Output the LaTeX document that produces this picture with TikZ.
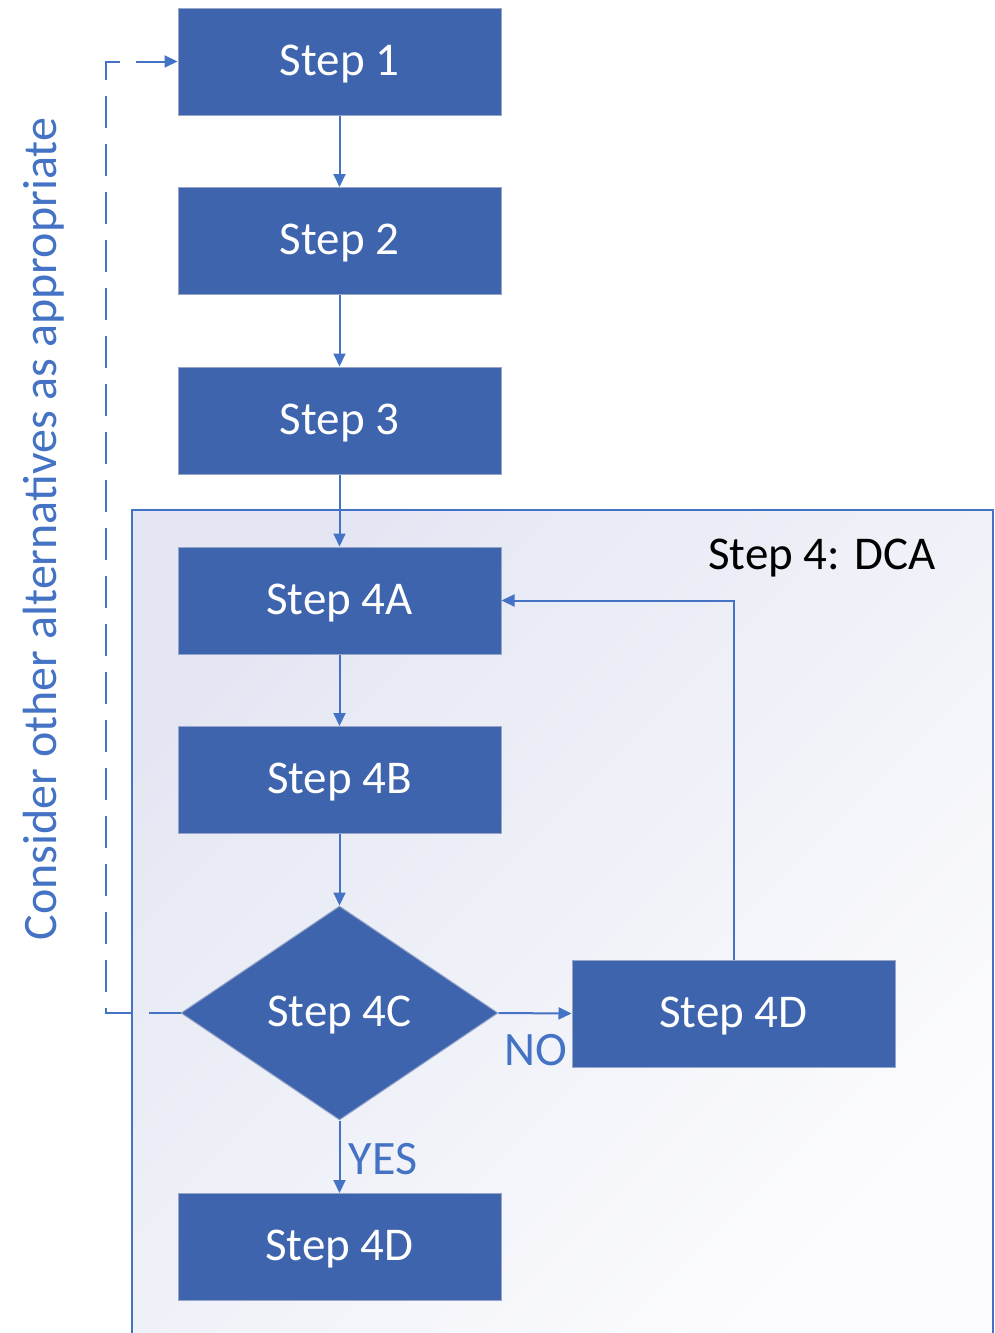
\documentclass[tikz,border=0pt]{standalone}
\usepackage{fontspec}
\setmainfont{Carlito}
\usetikzlibrary{arrows.meta,shapes.geometric}
\definecolor{boxblue}{RGB}{62,100,173}
\definecolor{boxedge}{RGB}{150,165,200}
\definecolor{lineblue}{RGB}{68,114,196}
\definecolor{lav}{RGB}{228,231,243}
\definecolor{lavw}{RGB}{252,252,254}
\begin{document}
\begin{tikzpicture}[x=1pt,y=-1pt,
  stepbox/.style={rectangle,fill=boxblue,draw=boxedge,line width=1pt,
    minimum width=323pt,minimum height=107pt,inner sep=0pt,text=white,
    text height=33pt,text depth=6pt,
    font=\fontsize{47pt}{56pt}\selectfont},
  decbox/.style={diamond,fill=boxblue,draw=boxedge,line width=1pt,aspect=1.48,
    minimum width=317pt,minimum height=214pt,inner sep=0pt,text=white,
    text height=33pt,text depth=6pt,
    font=\fontsize{47pt}{56pt}\selectfont},
  conn/.style={draw=lineblue,line width=2pt,-{Triangle[length=13pt,width=12pt]}},
  dashconn/.style={conn,dash pattern=on 32pt off 16pt},
  lbl/.style={text=lineblue,font=\fontsize{48pt}{56pt}\selectfont,inner sep=0pt}
]
\useasboundingbox (0,0) rectangle (994,1333);
\fill[white] (0,0) rectangle (994,1333);
% container
\shade[top color=lav,bottom color=lavw,shading angle=45] (132,510) rectangle (993,1345);
\draw[lineblue,line width=2pt] (132,1345) -- (132,510) -- (993,510) -- (993,1345);
\node[inner sep=0pt,text height=33pt,text depth=6pt,font=\fontsize{47pt}{56pt}\selectfont] (dca) at (822,556) {Step 4: DCA};
% nodes
\node[stepbox] (s1) at (339.5,61.5) {Step 1};
\node[stepbox] (s2) at (339.5,241) {Step 2};
\node[stepbox] (s3) at (339.5,420.5) {Step 3};
\node[stepbox] (s4a) at (339.5,600.5) {Step 4A};
\node[stepbox] (s4b) at (339.5,780) {Step 4B};
\node[decbox] (s4c) at (339.5,1013) {Step 4C};
\node[stepbox] (s4dr) at (733.5,1013.5) {Step 4D};
\node[stepbox] (s4db) at (339.5,1247) {Step 4D};
% connectors
\draw[conn] (s1) -- (s2);
\draw[conn] (s2) -- (s3);
\draw[conn] (s3) -- (s4a);
\draw[conn] (s4a) -- (s4b);
\draw[conn] (s4b) -- (s4c.north);
\draw[conn] (s4c.east) -- (s4dr.west);
\draw[conn] (s4dr.north) |- (s4a.east);
\draw[conn] (s4c.south) -- (s4db.north);
\coordinate (dl) at (106,1013);
\draw[dashconn] (s4c.west) -- (dl) |- (s1.west);
% labels
\node[lbl] (no) at (536,1050) {NO};
\node[lbl] (yes) at (383,1159) {YES};
\node[lbl,rotate=90] (side) at (44,529) {Consider other alternatives as appropriate};
\end{tikzpicture}
\end{document}
